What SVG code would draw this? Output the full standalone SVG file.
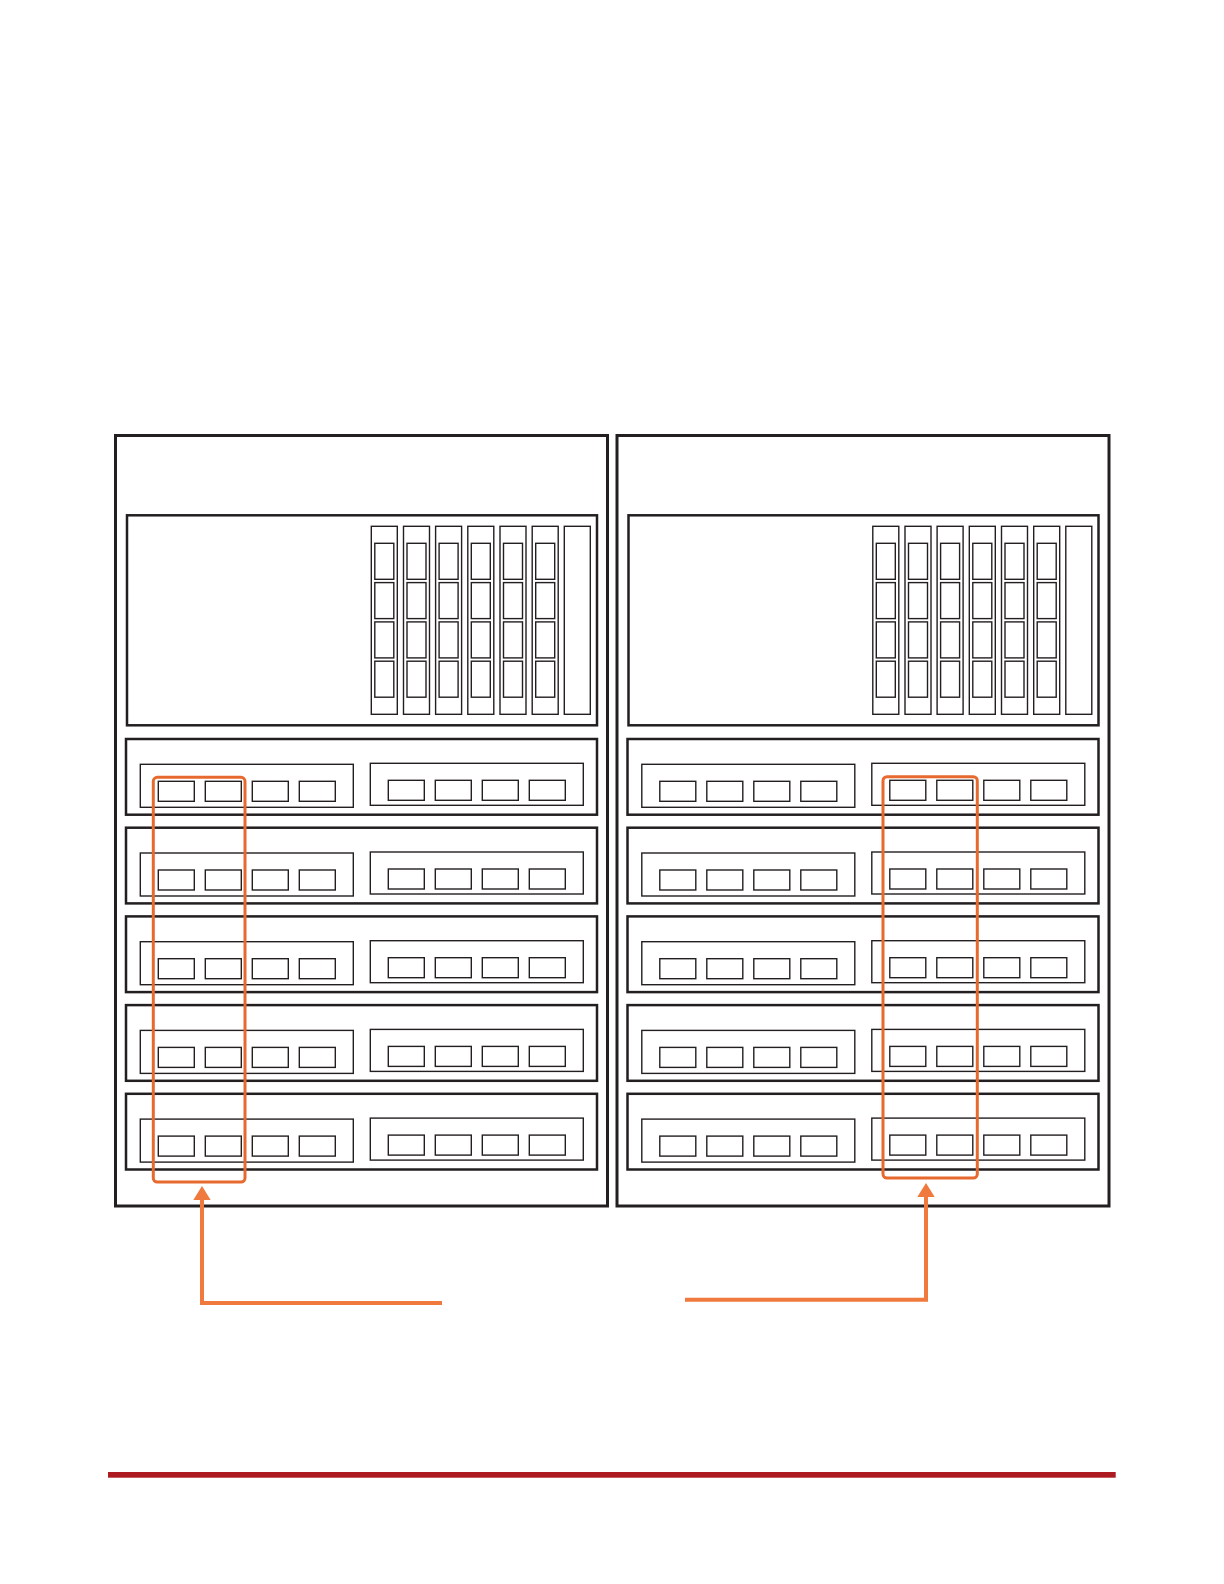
<svg xmlns="http://www.w3.org/2000/svg" xmlns:xlink="http://www.w3.org/1999/xlink" width="1224" height="1584" viewBox="0 0 1224 1584">
<style>
.rack{fill:none;stroke:#231F20;stroke-width:3}
.panel{fill:none;stroke:#231F20;stroke-width:2.5}
.thin{fill:none;stroke:#231F20;stroke-width:1.4}
.hl{fill:none;stroke:#E8692E;stroke-width:3}
.arrow{fill:none;stroke:#F07A3E;stroke-width:4}
</style>
<defs>
<marker id="ah" markerUnits="userSpaceOnUse" viewBox="0 0 14 17.4" markerWidth="14" markerHeight="17.4" refX="0" refY="8.7" orient="auto">
<path d="M0,0 L14,8.7 L0,17.4 Z" fill="#F07A3E"/>
</marker>
<g id="col">
<rect class="thin" x="0" y="0" width="26" height="188"/>
<rect class="thin" x="3.5" y="17" width="19" height="36"/>
<rect class="thin" x="3.5" y="56.3" width="19" height="36"/>
<rect class="thin" x="3.5" y="95.6" width="19" height="36"/>
<rect class="thin" x="3.5" y="134.9" width="19" height="36"/>
</g>
<g id="row">
<rect class="panel" x="0" y="0" width="471" height="75.7"/>
<rect class="thin" x="14.3" y="25.3" width="213" height="43"/>
<rect class="thin" x="32.3" y="42.3" width="36" height="20"/>
<rect class="thin" x="79.3" y="42.3" width="36" height="20"/>
<rect class="thin" x="126.3" y="42.3" width="36" height="20"/>
<rect class="thin" x="173.3" y="42.3" width="36" height="20"/>
<rect class="thin" x="244.3" y="24.3" width="213" height="42"/>
<rect class="thin" x="262.3" y="41.3" width="36" height="20"/>
<rect class="thin" x="309.3" y="41.3" width="36" height="20"/>
<rect class="thin" x="356.3" y="41.3" width="36" height="20"/>
<rect class="thin" x="403.3" y="41.3" width="36" height="20"/>
</g>
<g id="rackbody">
<rect class="rack" x="115.5" y="435.5" width="492" height="770.5"/>
<rect class="panel" x="127" y="515.3" width="470" height="210"/>
<use xlink:href="#col" x="371.3" y="526.3"/>
<use xlink:href="#col" x="403.5" y="526.3"/>
<use xlink:href="#col" x="435.6" y="526.3"/>
<use xlink:href="#col" x="467.8" y="526.3"/>
<use xlink:href="#col" x="500" y="526.3"/>
<use xlink:href="#col" x="532.2" y="526.3"/>
<rect class="thin" x="564.3" y="526.3" width="26" height="188"/>
<use xlink:href="#row" x="126" y="739"/>
<use xlink:href="#row" x="126" y="827.7"/>
<use xlink:href="#row" x="126" y="916.4"/>
<use xlink:href="#row" x="126" y="1005.1"/>
<use xlink:href="#row" x="126" y="1093.8"/>
</g>
</defs>
<g id="rack-left">
<use xlink:href="#rackbody"/>
</g>
<g id="rack-right" transform="translate(501.5,0)">
<use xlink:href="#rackbody"/>
</g>
<g id="highlight-left">
<rect class="hl" x="153.3" y="777.3" width="91.7" height="404.7" rx="4"/>
</g>
<g id="highlight-right">
<rect class="hl" x="883" y="776.7" width="94.3" height="401.3" rx="4"/>
</g>
<g id="connectors">
<path class="arrow" d="M442,1303 H202 V1200" marker-end="url(#ah)"/>
<path class="arrow" d="M685,1299.7 H926 V1197" marker-end="url(#ah)"/>
</g>
<rect x="108" y="1472" width="1007.7" height="5.7" fill="#AD1A20"/>
</svg>
